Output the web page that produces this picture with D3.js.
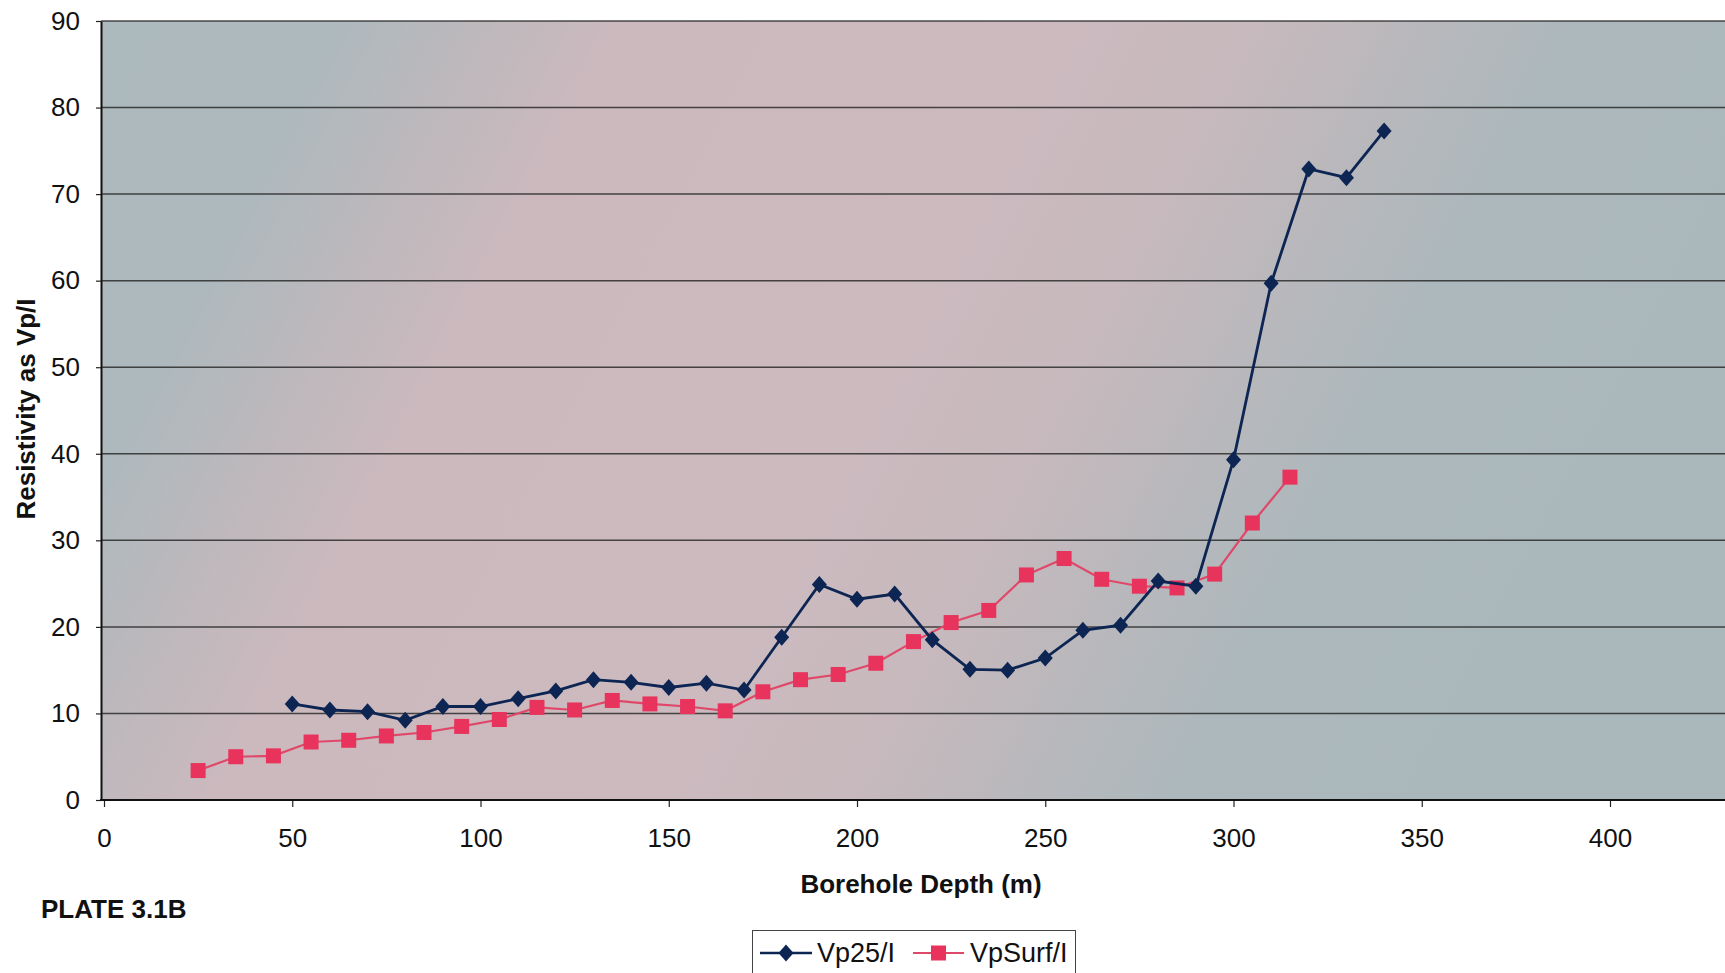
<!DOCTYPE html>
<html>
<head>
<meta charset="utf-8">
<script src="https://cdn.jsdelivr.net/npm/d3@7"></script>
<style>
  html, body { margin: 0; padding: 0; background: #ffffff; }
  svg { display: block; font-family: "Liberation Sans", Arial, Helvetica, sans-serif; }
</style>
</head>
<body>
<svg id="chart" width="1725" height="973"></svg>
<script>
// Borehole depth (m) for each series
const depthVp25 = [50, 60, 70, 80, 90, 100, 110, 120, 130, 140, 150, 160, 170, 180, 190,
                   200, 210, 220, 230, 240, 250, 260, 270, 280, 290, 300, 310, 320, 330, 340];
const vp25 = [11.1, 10.4, 10.2, 9.2, 10.8, 10.8, 11.7, 12.6, 13.9, 13.6, 13.0, 13.5, 12.7, 18.8, 24.9,
              23.2, 23.8, 18.5, 15.1, 15.0, 16.4, 19.6, 20.2, 25.3, 24.7, 39.3, 59.7, 72.9, 71.9, 77.3];

const depthVpSurf = [25, 35, 45, 55, 65, 75, 85, 95, 105, 115, 125, 135, 145, 155, 165,
                     175, 185, 195, 205, 215, 225, 235, 245, 255, 265, 275, 285, 295, 305, 315];
const vpSurf = [3.4, 5.0, 5.1, 6.7, 6.9, 7.4, 7.8, 8.5, 9.3, 10.7, 10.4, 11.5, 11.1, 10.8, 10.3,
                12.5, 13.9, 14.5, 15.8, 18.3, 20.5, 21.9, 26.0, 27.9, 25.5, 24.7, 24.5, 26.1, 32.0, 37.3];

const seriesNames = ["Vp25/I", "VpSurf/I"];
const xTicks = [0, 50, 100, 150, 200, 250, 300, 350, 400];
const yTicks = [0, 10, 20, 30, 40, 50, 60, 70, 80, 90];
const xTitle = "Borehole Depth (m)";
const yTitle = "Resistivity as Vp/I";
const plateLabel = "PLATE 3.1B";

const svg = d3.select("#chart");
const plot = { left: 101, top: 21, right: 1725, bottom: 800 };

const x = d3.scaleLinear().domain([0, 400]).range([104, 1610]);
const y = d3.scaleLinear().domain([0, 90]).range([plot.bottom, plot.top]);

const BLUE = "#0c2553";
const RED_LINE = "#e0486a";
const RED_FILL = "#e8335c";

// Plot area background: grey-blue at the edges, pale pink through the middle
const defs = svg.append("defs");
const bg = defs.append("linearGradient").attr("id", "plotBg")
  .attr("x1", "0").attr("y1", "0").attr("x2", "1").attr("y2", "0.25");
[[0, "#acb9bd"], [0.14, "#aeb9bd"], [0.22, "#bdb8bc"], [0.3, "#cbb9be"],
 [0.55, "#ccbabf"], [0.67, "#c7b9bd"], [0.77, "#b8b8bc"], [0.86, "#acb8bc"], [1, "#aab7bb"]]
  .forEach(([o, c]) => bg.append("stop").attr("offset", o).attr("stop-color", c));

svg.append("rect")
  .attr("x", plot.left).attr("y", plot.top)
  .attr("width", plot.right - plot.left).attr("height", plot.bottom - plot.top)
  .attr("fill", "url(#plotBg)");

// Horizontal gridlines
svg.append("g").selectAll("line")
  .data(yTicks.filter(v => v > 0))
  .join("line")
  .attr("x1", plot.left).attr("x2", plot.right)
  .attr("y1", d => y(d)).attr("y2", d => y(d))
  .attr("stroke", "#2b2b2b").attr("stroke-width", 1.5).attr("stroke-opacity", 0.85);

// Y axis
const yAxis = svg.append("g")
  .attr("transform", `translate(${plot.left},0)`)
  .call(d3.axisLeft(y).tickValues(yTicks).tickSize(5).tickSizeOuter(0).tickPadding(16));
yAxis.select(".domain").attr("stroke", "#111").attr("stroke-width", 2);
yAxis.selectAll(".tick line").attr("stroke", "#222").attr("stroke-width", 1.2);
yAxis.selectAll(".tick text").attr("font-size", 26).attr("fill", "#111")
  .attr("font-family", "'Liberation Sans', Arial, sans-serif");

// X axis
const xAxis = svg.append("g")
  .attr("transform", `translate(0,${plot.bottom})`)
  .call(d3.axisBottom(x).tickValues(xTicks).tickSize(7).tickSizeOuter(0).tickPadding(22));
xAxis.select(".domain").remove();
xAxis.selectAll(".tick line").attr("stroke", "#222").attr("stroke-width", 1.2);
xAxis.selectAll(".tick text").attr("font-size", 26).attr("fill", "#111")
  .attr("font-family", "'Liberation Sans', Arial, sans-serif");
svg.append("line")
  .attr("x1", plot.left - 1).attr("x2", plot.right)
  .attr("y1", plot.bottom).attr("y2", plot.bottom)
  .attr("stroke", "#111").attr("stroke-width", 2);

// Series
const lineGen = d3.line().x(d => x(d[0])).y(d => y(d[1]));
const blueData = depthVp25.map((d, i) => [d, vp25[i]]);
const redData = depthVpSurf.map((d, i) => [d, vpSurf[i]]);

const diamond = (cx, cy) => `M${cx},${cy - 8.5}L${cx + 7.5},${cy}L${cx},${cy + 8.5}L${cx - 7.5},${cy}Z`;

svg.append("path").datum(redData)
  .attr("d", lineGen).attr("fill", "none")
  .attr("stroke", RED_LINE).attr("stroke-width", 2.2);
svg.append("g").selectAll("rect")
  .data(redData).join("rect")
  .attr("x", d => x(d[0]) - 7.5).attr("y", d => y(d[1]) - 7.5)
  .attr("width", 15).attr("height", 15)
  .attr("fill", RED_FILL);

svg.append("path").datum(blueData)
  .attr("d", lineGen).attr("fill", "none")
  .attr("stroke", BLUE).attr("stroke-width", 2.8);
svg.append("g").selectAll("path")
  .data(blueData).join("path")
  .attr("d", d => diamond(x(d[0]), y(d[1])))
  .attr("fill", BLUE);

// Titles
svg.append("text")
  .attr("transform", "translate(35,409) rotate(-90)")
  .attr("text-anchor", "middle")
  .attr("font-size", 26).attr("font-weight", "bold").attr("fill", "#111")
  .text(yTitle);

svg.append("text")
  .attr("x", 921).attr("y", 893)
  .attr("text-anchor", "middle")
  .attr("font-size", 26).attr("font-weight", "bold").attr("fill", "#111")
  .text(xTitle);

svg.append("text")
  .attr("x", 41).attr("y", 918)
  .attr("font-size", 26).attr("font-weight", "bold").attr("fill", "#111")
  .text(plateLabel);

// Legend
const legend = svg.append("g");
legend.append("rect")
  .attr("x", 752.5).attr("y", 930.5).attr("width", 323).attr("height", 46)
  .attr("fill", "#ffffff").attr("stroke", "#444").attr("stroke-width", 1);

const legendItems = [
  { name: seriesNames[0], color: BLUE, x0: 760, x1: 812, marker: "diamond", tx: 817 },
  { name: seriesNames[1], color: RED_LINE, x0: 913, x1: 964, marker: "square", tx: 970 }
];
const legendY = 953;
legendItems.forEach(it => {
  legend.append("line")
    .attr("x1", it.x0).attr("x2", it.x1).attr("y1", legendY).attr("y2", legendY)
    .attr("stroke", it.color).attr("stroke-width", it.marker === "diamond" ? 2.4 : 2);
  const mx = (it.x0 + it.x1) / 2;
  if (it.marker === "diamond") {
    legend.append("path").attr("d", diamond(mx, legendY)).attr("fill", BLUE);
  } else {
    legend.append("rect").attr("x", mx - 7.5).attr("y", legendY - 7.5)
      .attr("width", 15).attr("height", 15).attr("fill", RED_FILL);
  }
  legend.append("text")
    .attr("x", it.tx).attr("y", 962)
    .attr("font-size", 27).attr("fill", "#111")
    .text(it.name);
});
</script>
</body>
</html>
